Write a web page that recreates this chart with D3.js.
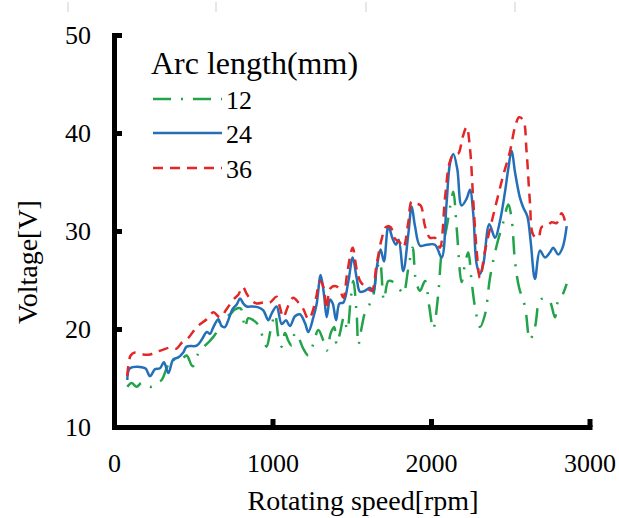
<!DOCTYPE html>
<html lang="en">
<head>
    <meta charset="UTF-8">
    <title>Voltage vs rotating speed</title>
    <script type='text/javascript' src='https://d3js.org/d3.v7.min.js'></script>
    <style>
        body { margin: 0; background: #fff; }
        svg { display: block; }
    </style>
</head>
<body>
    <script>
        // data (rpm, V) per arc length
        const rpm12 = [84,111,143,174,206,238,269,301,332,364,395,427,458,496,532,574,606,644,669,700,
            732,764,799,826,847,879,911,938,963,988,1016,1037,1058,1079,1100,1121,1142,1163,1194,1226,
            1258,1289,1321,1342,1368,1389,1405,1426,1451,1472,1493,1510,1531,1542,1563,1584,1615,1636,1657,1678,
            1703,1731,1762,1800,1825,1857,1884,1905,1931,1962,1989,2014,2046,2067,2098,2130,2141,2162,2193,2214,
            2235,2256,2277,2309,2341,2372,2414,2456,2488,2509,2530,2556,2593,2624,2656,2687,2719,2750,2782,2803,
            2824,2856];
        const volt12 = [14.1,14.5,14.1,14.5,14.2,14.1,14.5,14.8,16.0,17.0,16.7,16.9,17.3,16.2,17.5,18.3,18.8,19.6,20.9,21.2,
            21.5,22.0,22.1,20.1,21.1,20.9,20.4,19.2,18.2,19.9,21.5,19.2,18.2,19.6,18.8,18.3,19.6,19.2,18.0,17.3,
            18.5,19.9,18.8,17.8,19.6,20.2,18.4,19.6,21.2,19.9,22.95,24.9,21.5,18.4,20.2,21.7,22.6,23.4,25.9,26.9,
            22.95,24.9,24.8,24.1,23.6,26.2,28.3,24.9,23.9,24.9,22.3,20.0,23.6,27.8,30.3,33.3,34.0,30.3,24.8,26.6,
            27.8,24.9,22.3,20.2,21.5,25.2,28.5,30.9,32.7,31.2,26.9,24.2,22.3,18.9,20.2,22.95,23.1,22.8,21.2,22.95,
            23.3,24.6];

        const rpm24 = [84,101,196,227,259,290,315,343,374,406,437,458,522,553,585,606,627,658,679,700,
            721,749,774,795,816,837,879,911,942,974,995,1026,1058,1085,1110,1142,1173,1205,1226,1258,
            1279,1304,1325,1342,1363,1380,1401,1422,1447,1479,1506,1531,1552,1584,1615,1636,1657,1682,1703,1731,
            1758,1779,1796,1825,1857,1878,1899,1931,1973,2025,2067,2098,2120,2141,2166,2193,2225,2246,2267,2288,
            2309,2330,2368,2404,2435,2467,2488,2509,2530,2561,2582,2608,2629,2656,2687,2719,2750,2771,2803,2830,
            2856];
        const volt24 = [14.8,16.0,16.0,15.2,15.9,16.0,16.6,15.5,16.9,17.1,17.6,18.2,18.3,18.9,19.7,19.5,20.2,21.0,20.3,20.2,
            20.9,22.05,22.5,23.1,22.6,22.3,22.3,22.2,21.9,20.9,21.6,22.3,20.5,20.9,20.3,21.3,21.5,20.6,19.7,21.2,
            22.6,25.5,23.5,21.2,23.0,22.6,20.9,22.6,22.7,24.9,27.3,25.2,23.8,23.9,24.2,23.8,26.2,28.1,26.9,30.5,
            29.2,28.6,29.1,25.9,29.7,32.5,30.5,28.5,28.6,28.6,27.3,32.8,36.9,37.85,36.3,32.6,33.3,34.2,31.7,26.6,
            25.6,26.6,30.7,29.3,31.0,34.0,36.4,38.2,36.0,33.4,32.4,31.5,28.9,25.1,28.0,27.3,27.8,28.3,27.6,28.3,
            30.5];

        const rpm36 = [84,105,132,185,227,259,311,353,395,427,469,522,585,627,669,711,753,784,812,837,
            869,900,942,984,1026,1047,1068,1100,1131,1163,1194,1226,1247,1275,1300,1321,1342,1363,1395,1422,
            1447,1472,1506,1531,1556,1594,1626,1657,1689,1716,1745,1773,1800,1825,1857,1878,1905,1935,1962,1994,
            2025,2056,2088,2116,2141,2172,2200,2225,2246,2267,2288,2309,2341,2372,2414,2456,2498,2530,2556,2582,
            2603,2624,2645,2677,2698,2729,2761,2792,2824,2851];
        const volt36 = [15.2,17.3,17.6,17.4,17.4,17.6,17.9,18.1,18.0,18.6,19.1,20.2,21.0,21.7,21.2,22.05,23.0,23.5,24.3,23.6,
            22.9,22.6,22.7,22.7,23.3,22.2,21.2,22.4,23.2,22.7,22.05,21.0,21.5,23.2,24.9,24.3,22.05,24.1,24.4,24.1,
            23.2,25.8,28.3,26.1,24.8,24.2,23.9,26.6,29.2,30.4,30.4,29.2,28.9,28.3,30.9,33.0,32.8,32.6,30.5,29.3,
            29.3,28.3,33.3,36.9,37.8,37.9,39.6,40.6,38.4,33.0,28.0,25.2,28.0,30.2,33.0,35.7,38.1,40.6,41.6,41.3,
            38.1,33.0,29.6,29.3,30.4,30.5,30.9,30.8,31.8,30.7];

        const seriesNames = ["12", "24", "36"];
        const xTicks = [0, 1000, 2000, 3000];
        const yTicks = [10, 20, 30, 40, 50];

        const W = 619, H = 518;
        const font = "'Liberation Serif', 'Times New Roman', serif";

        const svg = d3.select("body").append("svg")
            .attr("width", W).attr("height", H)
            .style("font-family", font);

        const x = d3.scaleLinear().domain([0, 3000]).range([114, 589.5]);
        const y = d3.scaleLinear().domain([10, 50]).range([427, 35]);

        // faint marks along the top edge of the original picture
        svg.selectAll(".edge").data([68, 216, 366, 515]).enter().append("line")
            .attr("x1", d => d).attr("x2", d => d)
            .attr("y1", 2).attr("y2", 12)
            .attr("stroke", "#cfcfcf").attr("stroke-width", 1);

        const series = [
            { name: seriesNames[0], pts: d3.zip(rpm12, volt12), color: "#22a34a", dash: "18,10,2,10" },
            { name: seriesNames[1], pts: d3.zip(rpm24, volt24), color: "#2470b8", dash: null },
            { name: seriesNames[2], pts: d3.zip(rpm36, volt36), color: "#e32626", dash: "10,7" }
        ];

        const line = d3.line()
            .x(d => x(d[0]))
            .y(d => y(d[1]))
            .curve(d3.curveCatmullRom.alpha(0.5));

        svg.selectAll(".series").data(series).enter().append("path")
            .attr("class", "series")
            .attr("d", d => line(d.pts))
            .attr("fill", "none")
            .attr("stroke", d => d.color)
            .attr("stroke-width", 2.5)
            .attr("stroke-dasharray", d => d.dash);

        // axes
        const xAxis = svg.append("g")
            .attr("transform", "translate(0," + y(10) + ")")
            .call(d3.axisBottom(x).tickValues(xTicks).tickFormat(d3.format("d"))
                .tickSizeInner(-8).tickSizeOuter(0).tickPadding(27));
        const yAxis = svg.append("g")
            .attr("transform", "translate(" + x(0) + ",0)")
            .call(d3.axisLeft(y).tickValues(yTicks).tickFormat(d3.format("d"))
                .tickSizeInner(-8).tickSizeOuter(0).tickPadding(23));

        [xAxis, yAxis].forEach(g => {
            g.select(".domain").attr("stroke", "#000").attr("stroke-width", 5).attr("stroke-linecap", "square");
            g.selectAll(".tick line").attr("stroke", "#000").attr("stroke-width", 5);
            g.selectAll(".tick text").attr("fill", "#000")
                .style("font-family", font).style("font-size", "26px");
        });

        // axis titles
        svg.append("text")
            .attr("x", 363).attr("y", 510)
            .attr("text-anchor", "middle")
            .style("font-size", "28px")
            .text("Rotating speed[rpm]");
        svg.append("text")
            .attr("transform", "translate(37,262) rotate(-90)")
            .attr("text-anchor", "middle")
            .style("font-size", "28px")
            .text("Voltage[V]");

        // legend
        svg.append("text")
            .attr("x", 151).attr("y", 74)
            .style("font-size", "32px")
            .text("Arc length(mm)");
        const legendY = [99, 133, 168];
        const leg = svg.selectAll(".leg").data(series).enter().append("g");
        leg.append("line")
            .attr("x1", 153).attr("x2", 222)
            .attr("y1", (d, i) => legendY[i]).attr("y2", (d, i) => legendY[i])
            .attr("stroke", d => d.color)
            .attr("stroke-width", 2.5)
            .attr("stroke-dasharray", d => d.dash);
        leg.append("text")
            .attr("x", 226)
            .attr("y", (d, i) => legendY[i] + 10)
            .style("font-size", "26px")
            .text(d => d.name);
    </script>
</body>
</html>
